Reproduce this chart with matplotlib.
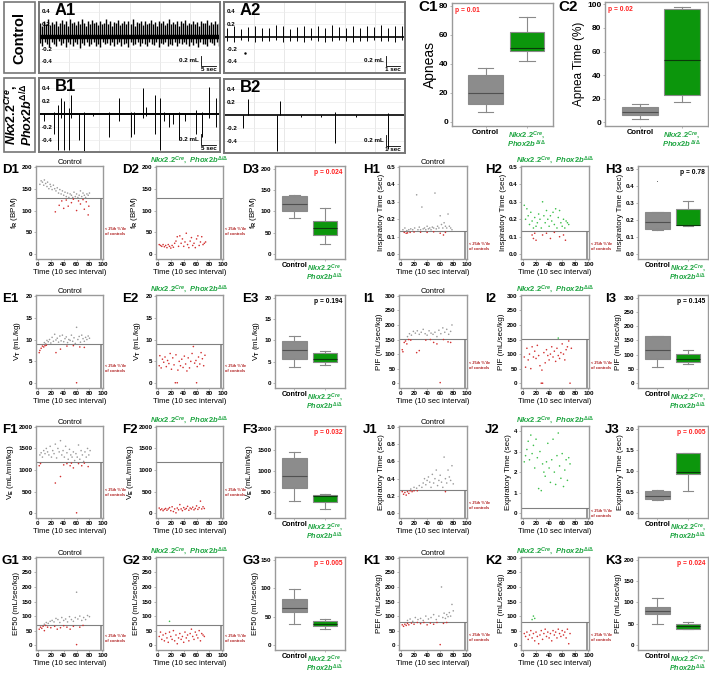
import numpy as np
import matplotlib
matplotlib.use("Agg")
import matplotlib.pyplot as plt
import matplotlib.transforms as mtransforms
from matplotlib.patches import Rectangle

W, H = 709, 674
plt.rcParams["font.family"] = ["Liberation Sans", "DejaVu Sans"]
plt.rcParams["font.weight"] = "bold"
plt.rcParams["mathtext.fontset"] = "custom"
plt.rcParams["mathtext.rm"] = "Liberation Sans:bold"
plt.rcParams["mathtext.it"] = "Liberation Sans:bold:italic"
plt.rcParams["mathtext.bf"] = "Liberation Sans:bold"

GRAY_PT = "#9a9a9a"
RED_PT = "#d23030"
GREEN_PT = "#3cbf4a"
GRAY_BOX = "#8c8c8c"
GREEN_BOX = "#0c960c"
EDGE = "#8a8a8a"
FRAME = "#9a9a9a"
GREEN_TXT = "#1ea541"
DARKRED = "#b02020"

MUT_TITLE = r"$\mathit{Nkx2.2}^{\mathit{Cre}}$$\mathit{,\ Phox2b}^{\mathit{\Delta/\Delta}}$"
MUT_TICK = "$\\mathit{Nkx2.2}^{\\mathit{Cre}}\\mathit{,}$\n$\\mathit{Phox2b}^{\\mathit{\\Delta/\\Delta}}$"

# --- respiratory flow traces (mL) ---
a1_up = [0.22, 0.18, 0.25, 0.20, 0.28, 0.19, 0.24, 0.21, 0.26, 0.17, 0.23, 0.27, 0.20, 0.25, 0.18,
         0.29, 0.22, 0.24, 0.19, 0.26, 0.21, 0.28, 0.23, 0.18, 0.25, 0.20, 0.27, 0.22, 0.24, 0.19,
         0.26, 0.21, 0.23, 0.28, 0.20, 0.25, 0.18, 0.24, 0.22, 0.27, 0.19, 0.23, 0.26, 0.20, 0.25,
         0.21, 0.28, 0.18, 0.24, 0.22, 0.26, 0.19, 0.25, 0.21, 0.23, 0.27, 0.20, 0.24, 0.18, 0.26,
         0.22, 0.25, 0.19, 0.23, 0.28, 0.21, 0.24, 0.20, 0.26, 0.18, 0.25, 0.22, 0.27, 0.19, 0.23,
         0.21, 0.26, 0.20, 0.24, 0.18, 0.25, 0.22, 0.23, 0.27, 0.19, 0.24, 0.21, 0.26, 0.20, 0.23]
a1_dn = [-0.10, -0.14, -0.08, -0.12, -0.16, -0.09, -0.11, -0.15, -0.07, -0.13, -0.10, -0.17, -0.08,
         -0.12, -0.14, -0.09, -0.11, -0.18, -0.10, -0.13, -0.08, -0.15, -0.12, -0.09, -0.14, -0.11,
         -0.16, -0.08, -0.12, -0.10, -0.13, -0.09, -0.15, -0.11, -0.08, -0.14, -0.12, -0.10, -0.16,
         -0.09, -0.13, -0.11, -0.08, -0.15, -0.10, -0.12, -0.14, -0.09, -0.11, -0.13, -0.08, -0.16,
         -0.10, -0.12, -0.09, -0.14, -0.11, -0.13, -0.08, -0.15, -0.10, -0.12, -0.09, -0.11, -0.14,
         -0.08, -0.13, -0.10, -0.16, -0.09, -0.12, -0.11, -0.14, -0.08, -0.10, -0.13, -0.09, -0.15]
a2_up = [0.15, 0.17, 0.13, 0.16, 0.18, 0.14, 0.15, 0.19, 0.17, 0.13, 0.16, 0.18, 0.15,
         0.17, 0.14, 0.19, 0.16, 0.15, 0.18, 0.14, 0.17, 0.16, 0.19, 0.15, 0.17, 0.18]
a2_dn = [-0.06, -0.08, -0.05, -0.07, -0.09, -0.06, -0.07, -0.05, -0.08, -0.06, -0.07, -0.09, -0.05,
         -0.06, -0.08, -0.07, -0.05, -0.06, -0.08, -0.07, -0.06, -0.05, -0.07, -0.06, -0.08, -0.05]
b1_t = [1.5, 5.1, 6.2, 7.3, 8.4, 9.8, 10.6, 13.1, 14.8, 18.0, 23.1, 26.4, 30.5, 31.6, 34.6, 35.5,
        38.6, 40.2, 41.5, 43.2, 44.3, 46.5, 48.5, 52.0, 53.9, 56.5, 58.7]
b1_up = [0.02, 0.03, 0.15, 0.25, 0.20, 0.10, 0.30, 0.02, 0.04, 0.02, 0.04, 0.25, 0.03, 0.04, 0.40,
         0.12, 0.30, 0.25, 0.03, 0.02, 0.02, 0.03, 0.02, 0.06, 0.03, 0.42, 0.25]
b1_dn = [-0.10, -0.30, -0.55, -0.05, -0.55, -0.55, -0.05, -0.40, -0.58, -0.03, -0.35, -0.10, -0.35,
         -0.30, -0.05, -0.03, -0.30, -0.55, -0.10, -0.20, -0.15, -0.40, -0.10, -0.30, -0.35, -0.05, -0.20]
b2_t = [1.4, 1.7, 3.8, 4.0, 5.5, 7.0, 8.0, 9.5, 11.8]
b2_up = [0.0, 0.25, 0.0, 0.22, 0.01, 0.01, 0.05, 0.01, 0.04]
b2_dn = [-0.20, 0.0, -0.55, 0.0, -0.02, -0.03, -0.42, -0.02, -0.52]

# --- box plot stats: [whislo, q1, med, q3, whishi] ---
c1_ctrl = [7, 12, 20, 32, 37]
c1_mut = [42, 49, 51, 62, 72]
c2_ctrl = [3, 6, 9, 13, 16]
c2_mut = [17, 23, 53, 96, 98]
d3_ctrl = [84, 102, 118, 135, 138]
d3_mut = [23, 44, 62, 77, 108]
e3_ctrl = [3.8, 5.7, 7.7, 9.9, 11.0]
e3_mut = [4.2, 5.0, 5.6, 7.0, 7.5]
f3_ctrl = [300, 600, 880, 1310, 1440]
f3_mut = [110, 260, 400, 440, 460]
g3_ctrl = [38, 58, 65, 81, 98]
g3_mut = [28, 34, 37, 42, 46]
h3_ctrl = [0.14, 0.145, 0.19, 0.245, 0.245]
h3_ctrl_out = [0.43]
h3_mut = [0.165, 0.17, 0.17, 0.262, 0.31]
i3_ctrl = [58, 85, 115, 165, 165]
i3_mut = [66, 73, 86, 103, 117]
j3_ctrl = [0.31, 0.33, 0.42, 0.52, 0.56]
j3_mut = [0.53, 0.92, 0.97, 1.43, 1.43]
k3_ctrl = [50, 72, 80, 90, 110]
k3_mut = [38, 38, 45, 50, 55]

# --- per-interval scatter values (time index, value) ---
d1_pts = [(3, 160), (5, 168), (7, 165), (9, 158), (10, 170), (12, 162), (14, 155), (15, 165), (17, 150),
          (19, 160), (20, 155), (22, 148), (24, 158), (26, 150), (28, 145), (30, 152), (32, 140), (34, 148),
          (36, 138), (38, 145), (40, 135), (42, 142), (44, 132), (46, 140), (48, 130), (50, 138), (52, 135),
          (54, 130), (56, 142), (58, 132), (60, 138), (62, 130), (64, 135), (66, 145), (68, 132), (70, 140),
          (72, 135), (74, 130), (76, 138), (78, 135), (80, 140),
          (27, 97), (33, 112), (37, 122), (40, 105), (44, 124), (47, 110), (52, 118), (55, 126), (60, 100),
          (63, 122), (66, 115), (70, 125), (72, 103), (75, 120), (78, 90), (79, 110)]
d2_pts = [(2, 22), (4, 20), (6, 18), (8, 22), (10, 17), (12, 20), (14, 15), (16, 22), (18, 18), (20, 14),
          (22, 20), (24, 16), (26, 25), (28, 30), (30, 40), (32, 18), (34, 42), (36, 25), (38, 35), (40, 18),
          (42, 28), (44, 48), (46, 22), (48, 15), (50, 30), (52, 38), (54, 20), (56, 25), (58, 15), (60, 35),
          (62, 42), (64, 20), (66, 28), (68, 40), (70, 22), (72, 25), (74, 28)]
e1_pts = [(10, 9.3), (12, 9.0), (14, 9.8), (16, 9.5), (18, 10.0), (20, 9.2), (22, 10.5), (24, 9.6),
          (26, 11.2), (28, 9.9), (30, 10.3), (32, 9.4), (34, 10.8), (36, 9.7), (38, 11.0), (40, 9.5),
          (42, 10.2), (44, 10.6), (46, 9.3), (48, 10.0), (50, 9.8), (52, 11.0), (54, 9.6), (56, 10.4),
          (58, 9.1), (60, 12.8), (62, 10.0), (64, 10.7), (66, 9.4), (68, 11.0), (70, 10.2), (72, 9.6),
          (74, 10.5), (76, 10.0), (78, 10.8), (80, 10.3),
          (2, 7.0), (3, 7.5), (5, 8.0), (7, 8.5), (9, 8.3), (11, 8.6), (13, 8.7), (28, 7.0), (35, 7.8),
          (45, 8.5), (55, 8.6), (60, 0.1), (65, 8.3), (72, 8.2)]
e2_pts = [(2, 4.0), (3, 6.3), (5, 3.5), (7, 5.5), (9, 4.8), (11, 6.0), (13, 3.8), (15, 5.2), (17, 4.5),
          (19, 6.8), (21, 3.2), (23, 5.8), (25, 4.2), (27, 0.1), (28, 6.5), (30, 0.1), (31, 3.0), (33, 5.0),
          (35, 4.0), (37, 5.5), (39, 3.6), (41, 6.2), (43, 4.4), (45, 2.8), (47, 5.8), (49, 3.5), (51, 5.0),
          (53, 6.8), (55, 8.4), (57, 4.6), (59, 5.2), (60, 0.1), (61, 3.8), (63, 6.0), (65, 4.4), (67, 7.0),
          (69, 5.6), (71, 4.0), (73, 6.4)]
f1_pts = [(3, 1350), (5, 1400), (7, 1300), (9, 1450), (11, 1380), (13, 1500), (15, 1420), (17, 1350),
          (19, 1550), (21, 1300), (23, 1450), (25, 1380), (27, 1600), (29, 1280), (31, 1500), (33, 1420),
          (35, 1680), (37, 1350), (39, 1450), (41, 1300), (43, 1550), (45, 1400), (47, 1250), (49, 1480),
          (51, 1350), (53, 1300), (55, 1420), (57, 1220), (59, 1380), (61, 1300), (63, 1580), (65, 1250),
          (67, 1450), (69, 1350), (71, 1200), (73, 1420), (75, 1300), (77, 1500), (79, 1350), (81, 1450),
          (2, 1100), (4, 1150), (27, 700), (35, 850), (40, 1120), (45, 1150), (50, 1100), (52, 1160),
          (55, 1050), (60, 10), (63, 1150), (68, 1100), (72, 1160), (78, 1080)]
f2_pts = [(2, 120), (4, 80), (6, 100), (8, 60), (10, 90), (12, 110), (14, 70), (16, 100), (18, 130),
          (20, 60), (22, 150), (24, 40), (26, 100), (28, 10), (30, 120), (32, 80), (34, 200), (36, 100),
          (38, 60), (40, 130), (42, 90), (44, 110), (46, 160), (48, 70), (50, 120), (52, 100), (54, 140),
          (56, 80), (58, 110), (60, 170), (62, 90), (64, 130), (66, 280), (68, 100), (70, 150), (72, 110)]
g1_pts = [(10, 72), (13, 78), (16, 75), (19, 82), (22, 85), (25, 80), (28, 92), (31, 88), (34, 78),
          (37, 95), (40, 85), (43, 90), (46, 80), (49, 98), (52, 88), (55, 82), (58, 95), (60, 182),
          (62, 90), (65, 100), (68, 85), (71, 95), (74, 88), (77, 102), (80, 98),
          (2, 55), (4, 62), (6, 58), (8, 65), (10, 50), (12, 68), (15, 62), (20, 60), (26, 65), (30, 55),
          (35, 60), (40, 67), (45, 62), (50, 55), (55, 65), (60, 2), (65, 62), (70, 68)]
g2_pts = [(2, 30), (4, 45), (6, 20), (8, 35), (10, 15), (12, 40), (14, 25), (16, 10), (18, 45), (20, 30),
          (22, 20), (24, 50), (26, 15), (28, 35), (30, 5), (32, 25), (34, 40), (36, 20), (38, 30), (40, 10),
          (42, 45), (44, 25), (46, 35), (48, 15), (50, 40), (52, 55), (54, 30), (56, 20), (58, 45), (60, 35),
          (62, 25), (64, 50), (66, 15), (68, 40), (70, 35), (72, 30), (18, 82)]
h1_pts = [(3, 0.14), (6, 0.15), (9, 0.135), (12, 0.14), (15, 0.145), (18, 0.14), (21, 0.15), (24, 0.34),
          (26, 0.14), (28, 0.155), (30, 0.14), (32, 0.27), (34, 0.145), (36, 0.15), (38, 0.14), (40, 0.16),
          (42, 0.145), (44, 0.15), (46, 0.14), (48, 0.155), (50, 0.15), (52, 0.35), (54, 0.145), (56, 0.16),
          (58, 0.15), (60, 0.22), (62, 0.17), (64, 0.15), (66, 0.18), (68, 0.16), (70, 0.15), (72, 0.23),
          (74, 0.16), (76, 0.15), (78, 0.14),
          (5, 0.125), (8, 0.12), (10, 0.122), (14, 0.125), (20, 0.127), (30, 0.126), (40, 0.125),
          (50, 0.128), (60, 0.12), (65, 0.11), (68, 0.125)]
h2_pts = [(2, 0.28), (4, 0.2), (6, 0.26), (8, 0.22), (10, 0.17), (12, 0.24), (14, 0.19), (16, 0.15),
          (18, 0.21), (20, 0.16), (22, 0.18), (24, 0.23), (26, 0.2), (28, 0.15), (30, 0.3), (32, 0.22),
          (34, 0.18), (36, 0.25), (38, 0.2), (40, 0.16), (42, 0.22), (44, 0.19), (46, 0.24), (48, 0.17),
          (50, 0.26), (52, 0.15), (54, 0.21), (56, 0.25), (58, 0.18), (60, 0.16), (62, 0.2), (64, 0.15),
          (66, 0.19), (68, 0.18), (70, 0.17),
          (14, 0.11), (16, 0.09), (18, 0.12), (20, 0.08), (30, 0.11), (36, 0.12), (42, 0.09), (48, 0.125),
          (56, 0.1), (62, 0.11), (65, 0.08)]
i1_pts = [(10, 160), (13, 170), (16, 165), (19, 178), (22, 172), (25, 180), (28, 168), (31, 175),
          (34, 185), (37, 170), (40, 165), (43, 180), (46, 172), (49, 168), (52, 175), (55, 160), (58, 182),
          (61, 170), (64, 190), (67, 175), (70, 185), (73, 168), (76, 178), (78, 200),
          (2, 115), (3, 108), (5, 140), (7, 145), (9, 135), (12, 150), (15, 148), (24, 105), (28, 112),
          (38, 148), (45, 150), (50, 140), (55, 135), (60, 2), (65, 150), (72, 142), (76, 140)]
i2_pts = [(2, 90), (4, 55), (6, 120), (8, 80), (10, 100), (12, 50), (14, 125), (16, 90), (18, 110),
          (20, 85), (22, 130), (24, 95), (26, 60), (28, 0), (29, 45), (30, 0), (32, 105), (34, 70),
          (36, 115), (38, 95), (40, 80), (42, 100), (44, 125), (46, 90), (48, 110), (50, 75), (52, 120),
          (54, 95), (56, 85), (58, 105), (60, 135), (62, 100), (64, 80), (66, 115), (68, 125), (70, 145),
          (72, 0), (74, 120), (54, 155)]
j1_pts = [(15, 0.28), (20, 0.3), (24, 0.29), (28, 0.32), (32, 0.3), (34, 0.35), (36, 0.4), (38, 0.33),
          (40, 0.38), (42, 0.42), (44, 0.36), (46, 0.3), (48, 0.45), (50, 0.35), (52, 0.4), (54, 0.5),
          (56, 0.32), (58, 0.38), (60, 0.44), (62, 0.36), (64, 0.3), (66, 0.65), (68, 0.4), (70, 0.35),
          (72, 0.5), (74, 0.42), (76, 0.38), (78, 0.55), (80, 0.34),
          (2, 0.25), (4, 0.22), (6, 0.24), (8, 0.21), (10, 0.25), (12, 0.23), (14, 0.26), (17, 0.25),
          (20, 0.26), (25, 0.26), (68, 0.25)]
j2_pts = [(2, 2.5), (4, 2.8), (6, 3.1), (8, 3.5), (10, 2.6), (12, 3.8), (14, 2.9), (16, 3.3), (18, 2.2),
          (20, 3.6), (22, 2.7), (24, 1.2), (26, 3.0), (28, 1.1), (30, 2.4), (32, 2.0), (34, 1.8), (36, 2.5),
          (38, 3.4), (40, 2.2), (42, 1.5), (44, 2.6), (46, 3.6), (48, 2.0), (50, 1.4), (52, 2.8), (54, 3.9),
          (56, 2.3), (58, 1.7), (60, 2.9), (62, 1.3), (64, 2.1), (66, 2.6), (68, 1.6), (70, 2.7), (72, 2.4)]
k1_pts = [(10, 85), (14, 90), (18, 82), (22, 95), (26, 88), (30, 92), (34, 85), (38, 100), (42, 90),
          (46, 95), (50, 105), (54, 88), (58, 100), (62, 200), (64, 95), (66, 110), (68, 92), (70, 105),
          (72, 98), (74, 112), (76, 100), (78, 140), (80, 118),
          (2, 70), (4, 65), (6, 72), (8, 68), (10, 75), (12, 70), (16, 76), (20, 72), (25, 78), (30, 74),
          (35, 78), (40, 70), (45, 76), (50, 72), (55, 78), (60, 2), (65, 75), (70, 78)]
k2_pts = [(2, 40), (4, 30), (6, 45), (8, 20), (10, 35), (12, 50), (14, 25), (16, 40), (18, 15), (20, 45),
          (22, 30), (24, 5), (26, 35), (28, 50), (30, 20), (32, 40), (34, 55), (36, 30), (38, 45), (40, 25),
          (42, 40), (44, 15), (46, 50), (48, 35), (50, 45), (52, 25), (54, 55), (56, 40), (58, 30), (60, 50),
          (62, 35), (64, 45), (66, 25), (68, 55), (70, 5), (72, 40), (14, 88), (16, 100), (18, 92)]

fig = plt.figure(figsize=(W / 100, H / 100), dpi=100)


def px_axes(x0, y0, x1, y1):
    return fig.add_axes([x0 / W, 1 - y1 / H, (x1 - x0) / W, (y1 - y0) / H])


def label(x, y, s, size=9):
    fig.text(x / W, 1 - y / H, s, fontsize=size, fontweight="bold", va="center", ha="left")


def frame(ax, color=FRAME, lw=1.0):
    for sp in ax.spines.values():
        sp.set_color(color)
        sp.set_linewidth(lw)


# ------------------------------------------------------------------------------
# Traces A1, A2, B1, B2
# ------------------------------------------------------------------------------
def trace(box, name, t_up, up, t_dn, dn, span, bar_sec, base_lw, spike_lw=0.7):
    ax = px_axes(*box)
    ax.set_xlim(0, span)
    ax.set_ylim(-0.58, 0.56)
    for v in np.linspace(0, span, 7)[1:-1]:
        ax.axvline(v, color="#e4e4e4", lw=0.6, zorder=0)
    for h in (-0.4, -0.2, 0.2, 0.4):
        ax.axhline(h, color="#ececec", lw=0.5, zorder=0)
    ax.vlines(t_up, 0, up, color="black", lw=spike_lw)
    ax.vlines(t_dn, dn, 0, color="black", lw=spike_lw)
    ax.axhline(0, color="black", lw=base_lw)
    ax.set_xticks([])
    ax.set_yticks([])
    frame(ax, "#777777", 1.4)
    tr = ax.get_yaxis_transform()
    for v, s in [(0.4, "0.4"), (0.2, "0.2"), (-0.2, "-0.2"), (-0.4, "-0.4")]:
        ax.text(0.015, v, s, transform=tr, fontsize=4.5, va="center")
    ax.text(0.085, 0.43, name, transform=tr, fontsize=12, va="center")
    x0 = 0.895 * span
    ax.plot([x0, x0, x0 + bar_sec], [-0.30, -0.47, -0.47], color="black", lw=0.6)
    ax.text(x0 - 0.01 * span, -0.38, "0.2 mL", fontsize=4.5, ha="right", va="center")
    ax.text(x0 + bar_sec / 2, -0.53, f"{bar_sec} sec", fontsize=4.5, ha="center", va="center")
    return ax


n = len(a1_up)
trace((39, 2, 220, 73), "A1", (np.arange(n) + 0.5) * 60 / n, a1_up,
      (np.arange(len(a1_dn)) + 0.5) * 60 / len(a1_dn), a1_dn, 60, 5, 3.2, spike_lw=1.0)
n = len(a2_up)
ax_a2 = trace((224, 2, 405, 73), "A2", (np.arange(n) + 0.5) * 13 / n, a2_up,
              (np.arange(n) + 0.5) * 13 / n, a2_dn, 13, 1, 1.2)
ax_a2.plot([1.5], [-0.26], "k.", ms=1.5)
trace((39, 78, 220, 152), "B1", b1_t, b1_up, b1_t, b1_dn, 60, 5, 1.4)
trace((224, 79, 405, 153), "B2", b2_t, b2_up, b2_t, b2_dn, 13, 1, 1.2)

# row label boxes
for (y0, y1) in [(2, 73), (78, 152)]:
    fig.patches.append(Rectangle((4 / W, 1 - y1 / H), 31 / W, (y1 - y0) / H, transform=fig.transFigure,
                                 fill=False, edgecolor="#777777", lw=1.2))
fig.text(19.5 / W, 1 - 37.5 / H, "Control", rotation=90, fontsize=10.5, fontweight="bold",
         ha="center", va="center")
fig.text(19.5 / W, 1 - 115 / H,
         "$\\mathit{Nkx2.2}^{\\mathit{Cre}}\\mathit{,}$\n$\\mathit{Phox2b}^{\\mathit{\\Delta/\\Delta}}$",
         rotation=90, fontsize=9, ha="center", va="center", linespacing=0.9)


# ------------------------------------------------------------------------------
# Box panels
# ------------------------------------------------------------------------------
def box_panel(box, ctrl, mut, ylim, yticks, ylabel, ptxt, pcol, xlim=(0.36, 2.66), widths=0.8,
              fliers=(), tick_fs=4.5, lab_fs=5.5, xt_fs=5.2, p_fs=4.8):
    ax = px_axes(*box)
    stats = []
    for v, fl in [(ctrl, list(fliers)), (mut, [])]:
        stats.append(dict(whislo=v[0], q1=v[1], med=v[2], q3=v[3], whishi=v[4], fliers=fl))
    bp = ax.bxp(stats, positions=[1, 2], widths=widths, patch_artist=True, showfliers=True,
                boxprops=dict(edgecolor=EDGE, lw=0.8),
                whiskerprops=dict(color=EDGE, lw=0.8),
                capprops=dict(color=EDGE, lw=0.8),
                medianprops=dict(color="#505050", lw=0.8),
                flierprops=dict(marker=".", ms=1.5, mfc="#555555", mec="none"))
    bp["boxes"][0].set_facecolor(GRAY_BOX)
    bp["boxes"][1].set_facecolor(GREEN_BOX)
    bp["medians"][1].set_color("#0a3a0a")
    for c in bp["caps"]:
        xd = c.get_xdata()
        m = (xd[0] + xd[1]) / 2
        c.set_xdata([m - widths * 0.22, m + widths * 0.22])
    ax.set_xlim(*xlim)
    ax.set_ylim(*ylim)
    ax.set_yticks(yticks)
    ax.set_xticks([1, 2], ["Control", MUT_TICK])
    mt = ax.get_xticklabels()[1]
    mt.set_color(GREEN_TXT)
    mt.set_linespacing(0.78)
    ax.tick_params(axis="x", labelsize=xt_fs, length=1.5, width=0.5, color=FRAME, pad=1)
    ax.tick_params(axis="y", labelsize=tick_fs, length=1.5, width=0.5, color=FRAME, pad=1)
    ax.set_ylabel(ylabel, fontsize=lab_fs, labelpad=1.5)
    ax.text(0.96, 0.97, ptxt, transform=ax.transAxes, color=pcol, fontsize=p_fs,
            ha="right", va="top")
    frame(ax)
    return ax


ax_c1 = box_panel((452, 3, 553, 126), c1_ctrl, c1_mut, (-3, 82), [0, 20, 40, 60, 80], "Apneas", "p = 0.01",
                  "#ff2020", xlim=(0.19, 2.63), widths=0.84, tick_fs=6, lab_fs=10, xt_fs=5.5)
ax_c1.texts[0].set_position((0.03, 0.97))
ax_c1.texts[0].set_ha("left")
ax_c2 = box_panel((605, 2, 708, 126), c2_ctrl, c2_mut, (-3, 102), [0, 20, 40, 60, 80, 100], "Apnea Time (%)",
                  "p = 0.02", "#ff2020", xlim=(0.17, 2.62), widths=0.84, tick_fs=6, lab_fs=8.5, xt_fs=5.5)
ax_c2.texts[0].set_position((0.03, 0.97))
ax_c2.texts[0].set_ha("left")
label(418, 7, "C1", 11)
label(558, 7, "C2", 11)


# ------------------------------------------------------------------------------
# Scatter panels
# ------------------------------------------------------------------------------
def scatter_panel(box, pts, thr, ylim, yticks, ylabel, hi_col, title, title_col, lab_fs=5.5):
    ax = px_axes(*box)
    x = [p[0] for p in pts]
    y = [p[1] for p in pts]
    cols = [hi_col if v >= thr else RED_PT for v in y]
    ax.scatter(x, y, s=1.3, c=cols, linewidths=0, zorder=3)
    rng = ylim[1] - ylim[0]
    lo = ylim[0] - 0.055 * rng
    ax.axhline(thr, color="#808080", lw=0.8)
    ax.vlines([96, 98], lo, thr, color="#707070", lw=0.5)
    ax.set_xlim(-3, 101)
    ax.set_xticks(range(0, 101, 20))
    ax.set_ylim(lo, ylim[1] + 0.01 * rng)
    ax.set_yticks(yticks)
    ax.tick_params(labelsize=4.5, length=1.5, width=0.5, color=FRAME, pad=1)
    ax.set_xlabel("Time (10 sec interval)", fontsize=5.5, labelpad=1)
    ax.set_ylabel(ylabel, fontsize=lab_fs, labelpad=1.5)
    tr = mtransforms.blended_transform_factory(ax.transAxes, ax.transData)
    ax.text(1.03, lo + (thr - lo) * 0.45, "< 25th %'ile\nof controls", transform=tr,
            color=DARKRED, fontsize=2.8, va="center", ha="left", linespacing=1.3)
    ax.set_title(title, fontsize=5.5, pad=1.5, color=title_col)
    frame(ax)
    return ax


left_cols = [(36, 103), (156, 223), (275, 345)]
right_cols = [(399, 467), (521, 589), (638, 708)]
rows = [(166, 259), (295, 388), (426, 518), (557, 650)]

left_rows = [
    ("D", d1_pts, d2_pts, 128, (0, 200), [0, 50, 100, 150, 200], r"f$_\mathrm{R}$ (BPM)",
     d3_ctrl, d3_mut, (0, 200), [0, 50, 100, 150, 200], "p = 0.024", "#ff2020"),
    ("E", e1_pts, e2_pts, 8.9, (0, 20), [0, 5, 10, 15, 20], r"V$_\mathrm{T}$ (mL/kg)",
     e3_ctrl, e3_mut, (0, 20), [0, 5, 10, 15, 20], "p = 0.194", "black"),
    ("F", f1_pts, f2_pts, 1180, (0, 2000), [0, 500, 1000, 1500, 2000], r"V$_\mathrm{E}$ (mL/min/kg)",
     f3_ctrl, f3_mut, (0, 2000), [0, 500, 1000, 1500, 2000], "p = 0.032", "#ff2020"),
    ("G", g1_pts, g2_pts, 70, (0, 300), [0, 50, 100, 150, 200, 250, 300], "EF50 (mL/sec/kg)",
     g3_ctrl, g3_mut, (0, 150), [0, 50, 100, 150], "p = 0.005", "#ff2020"),
]
right_rows = [
    ("H", h1_pts, h2_pts, 0.13, (0, 0.5), [0.0, 0.1, 0.2, 0.3, 0.4, 0.5], "Inspiratory Time (sec)",
     h3_ctrl, h3_mut, (0, 0.5), [0.0, 0.1, 0.2, 0.3, 0.4, 0.5], "p = 0.78", "black"),
    ("I", i1_pts, i2_pts, 153, (0, 300), [0, 50, 100, 150, 200, 250, 300], "PIF (mL/sec/kg)",
     i3_ctrl, i3_mut, (0, 300), [0, 50, 100, 150, 200, 250, 300], "p = 0.145", "black"),
    ("J", j1_pts, j2_pts, 0.27, (0, 1.0), [0.0, 0.2, 0.4, 0.6, 0.8, 1.0], "Expiratory Time (sec)",
     j3_ctrl, j3_mut, (0, 2.0), [0.0, 0.5, 1.0, 1.5, 2.0], "p = 0.005", "#ff2020"),
    ("K", k1_pts, k2_pts, 80, (0, 300), [0, 50, 100, 150, 200, 250, 300], "PEF (mL/sec/kg)",
     k3_ctrl, k3_mut, (0, 200), [0, 50, 100, 150, 200], "p = 0.024", "#ff2020"),
]

for cols, spec, lab_x in [(left_cols, left_rows, (2, 122, 242)), (right_cols, right_rows, (363, 485, 605))]:
    for (y0, y1), (key, p1, p2, thr, yl, yt, ylab, bc, bm, byl, byt, ptxt, pcol) in zip(rows, spec):
        lab_fs = 5.8
        scatter_panel((cols[0][0], y0, cols[0][1], y1), p1, thr, yl, yt, ylab, GRAY_PT, "Control",
                      "black", lab_fs)
        yl2, yt2 = yl, yt
        if key == "J":
            yl2, yt2 = (0, 4.2), [0, 1, 2, 3, 4]
        scatter_panel((cols[1][0], y0, cols[1][1], y1), p2, thr, yl2, yt2, ylab, GREEN_PT, MUT_TITLE,
                      GREEN_TXT, lab_fs)
        rng = byl[1] - byl[0]
        box_panel((cols[2][0], y0, cols[2][1], y1), bc, bm, (byl[0] - 0.055 * rng, byl[1] + 0.03 * rng),
                  byt, ylab, ptxt, pcol, fliers=h3_ctrl_out if key == "H" else (), lab_fs=lab_fs)
        for i, lx in enumerate(lab_x):
            label(lx, y0 + 4, f"{key}{i + 1}", 9.5)

fig.savefig("out.png", dpi=100)
